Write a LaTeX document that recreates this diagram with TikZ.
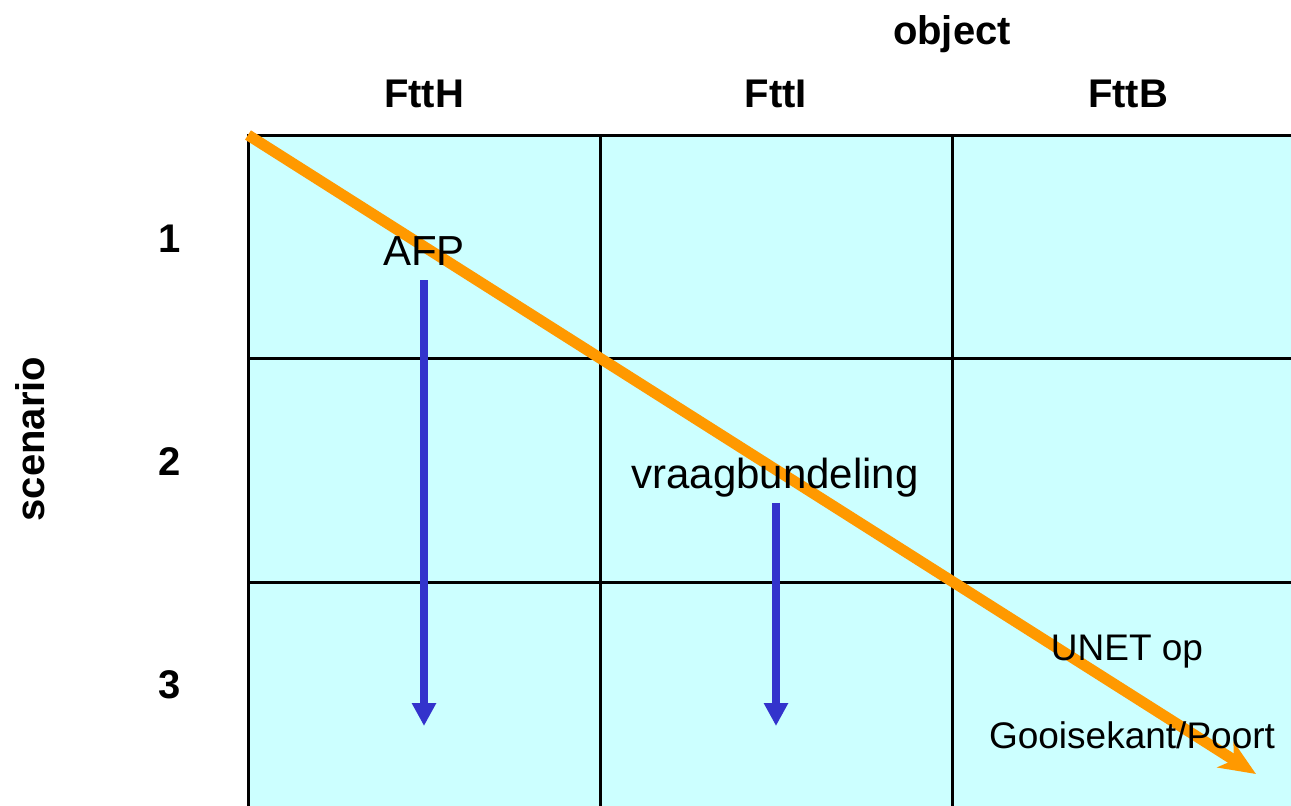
\documentclass[tikz,border=0pt]{standalone}
\usepackage{fontspec}
\setmainfont{Liberation Sans}
\usepackage{tikz}
\usetikzlibrary{arrows.meta,positioning}
\definecolor{cellcyan}{HTML}{CCFFFF}
\definecolor{arrowblue}{HTML}{3333CC}
\definecolor{pathorange}{HTML}{FF9900}

\begin{document}
\begin{tikzpicture}[x=1pt,y=-1pt,
    head/.style={font=\fontsize{40}{48}\selectfont\bfseries, anchor=base, inner sep=0pt},
    cellabel/.style={font=\fontsize{42}{50}\selectfont, anchor=base, inner sep=0pt},
    smallabel/.style={font=\fontsize{37}{44}\selectfont, anchor=base, inner sep=0pt},
    downarrow/.style={arrowblue, line width=8pt, -{Triangle[length=23pt,width=23pt]}},
    diagarrow/.style={pathorange, line width=11pt, -{Stealth[length=36pt,width=30pt,inset=10pt]}}]
	  \useasboundingbox (0,0) rectangle (1291,806);
	  % Fill the cells and draw the grid
	  \fill[cellcyan] (248,135) rectangle (1304,806);
	  \draw[line width=3pt] (248,806) -- (248,135) -- (1304,135);
	  \draw[line width=3pt] (248,358) -- (1304,358);
	  \draw[line width=3pt] (248,582) -- (1304,582);
	  \draw[line width=3pt] (600,135) -- (600,806);
	  \draw[line width=3pt] (952,135) -- (952,806);
	  % Diagonal arrow, under the labels
	  \coordinate (corner) at (248,135);
	  \coordinate (diagend) at (1256,774);
	  \draw[diagarrow] (corner) -- (diagend);
	  % Column and row headings
	  \node (object) [head] at (952,44) {object};
	  \node (ftth) [head] at (424,107) {FttH};
	  \node (ftti) [head] at (776,107) {FttI};
	  \node (fttb) [head] at (1128,107) {FttB};
	  \node (scenario) [head,rotate=90] at (44,439) {scenario};
	  \node (row1) [head] at (170,252) {1};
	  \node (row2) [head] at (170,475) {2};
	  \node (row3) [head] at (170,698) {3};
	  % Labels inside the cells
	  \node (afp) [cellabel] at (424,265) {AFP};
	  \node (vraag) [cellabel] at (775,488) {vraagbundeling};
	  \node (unet) [smallabel] at (1127,660) {UNET op};
	  \node (poort) [smallabel] at (1132,748) {Gooisekant/Poort};
	  % Arrows down
	  \coordinate (afpend) at (424,726);
	  \coordinate (vraagend) at (776,726);
	  \draw[downarrow, shorten <=15pt] (afp.south) -- (afpend);
	  \draw[downarrow, shorten <=6pt] (vraag.south -| vraagend) -- (vraagend);
\end{tikzpicture}
\end{document}
